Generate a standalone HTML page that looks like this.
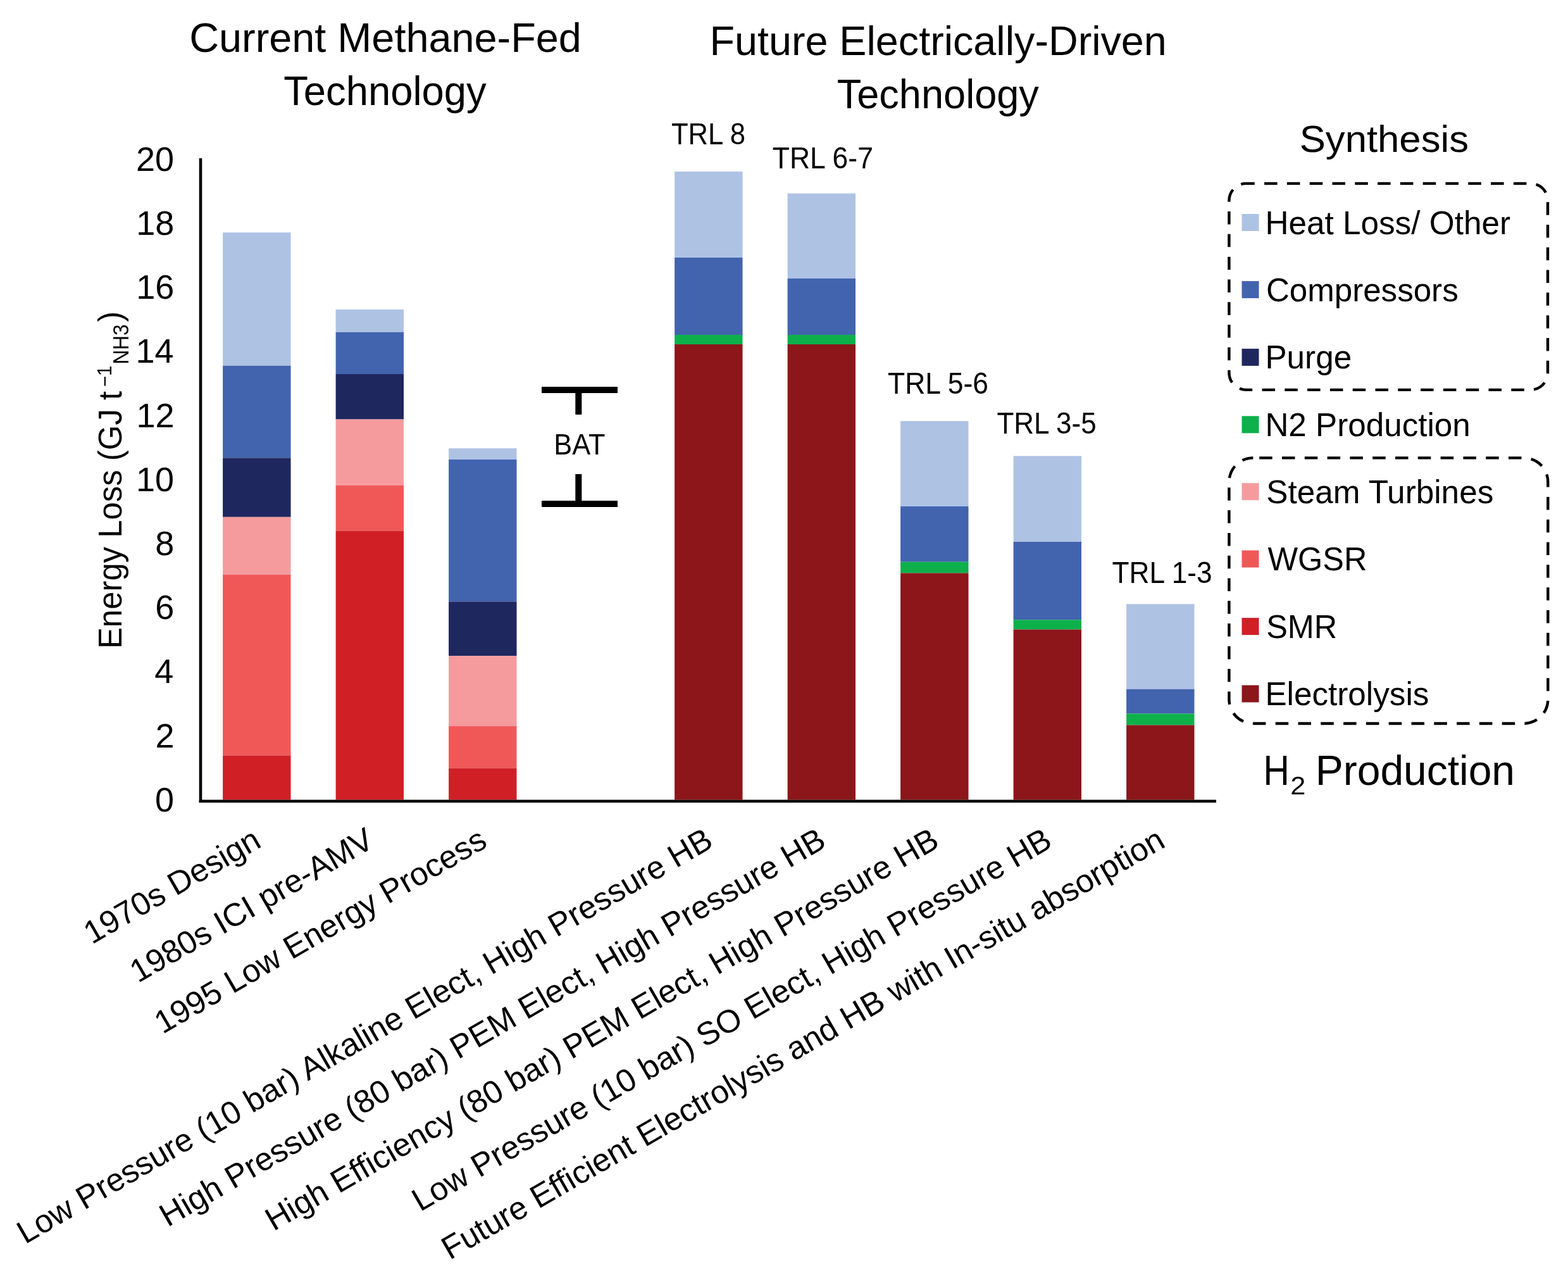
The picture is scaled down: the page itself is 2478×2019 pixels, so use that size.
<!DOCTYPE html>
<html><head><meta charset="utf-8"><title>Energy Loss chart</title>
<style>html,body{margin:0;padding:0;background:#fff;}svg{display:block;}</style></head>
<body><svg width="2478" height="2019" viewBox="0 0 2478 2019" font-family='"Liberation Sans", Arial, sans-serif'><rect width="100%" height="100%" fill="#fff"/><rect x="352.1" y="367.3" width="107.4" height="210.4" fill="#AEC2E4"/>
<rect x="352.1" y="577.7" width="107.4" height="145.7" fill="#4263AE"/>
<rect x="352.1" y="723.4" width="107.4" height="93.4" fill="#1F275F"/>
<rect x="352.1" y="816.8" width="107.4" height="91.2" fill="#F59B9E"/>
<rect x="352.1" y="908.0" width="107.4" height="285.5" fill="#F05858"/>
<rect x="352.1" y="1193.5" width="107.4" height="70.0" fill="#D11F26"/>
<rect x="530.6" y="488.9" width="107.4" height="35.8" fill="#AEC2E4"/>
<rect x="530.6" y="524.7" width="107.4" height="66.3" fill="#4263AE"/>
<rect x="530.6" y="591.0" width="107.4" height="71.5" fill="#1F275F"/>
<rect x="530.6" y="662.5" width="107.4" height="104.1" fill="#F59B9E"/>
<rect x="530.6" y="766.6" width="107.4" height="72.0" fill="#F05858"/>
<rect x="530.6" y="838.6" width="107.4" height="424.9" fill="#D11F26"/>
<rect x="709.1" y="708.3" width="107.4" height="17.7" fill="#AEC2E4"/>
<rect x="709.1" y="726.0" width="107.4" height="224.4" fill="#4263AE"/>
<rect x="709.1" y="950.4" width="107.4" height="85.8" fill="#1F275F"/>
<rect x="709.1" y="1036.2" width="107.4" height="110.9" fill="#F59B9E"/>
<rect x="709.1" y="1147.1" width="107.4" height="66.4" fill="#F05858"/>
<rect x="709.1" y="1213.5" width="107.4" height="50.0" fill="#D11F26"/>
<rect x="1066.1" y="271.0" width="107.4" height="136.0" fill="#AEC2E4"/>
<rect x="1066.1" y="407.0" width="107.4" height="122.0" fill="#4263AE"/>
<rect x="1066.1" y="529.0" width="107.4" height="15.0" fill="#0DB04B"/>
<rect x="1066.1" y="544.0" width="107.4" height="719.5" fill="#8C161A"/>
<rect x="1244.6" y="305.6" width="107.4" height="134.4" fill="#AEC2E4"/>
<rect x="1244.6" y="440.0" width="107.4" height="89.0" fill="#4263AE"/>
<rect x="1244.6" y="529.0" width="107.4" height="15.0" fill="#0DB04B"/>
<rect x="1244.6" y="544.0" width="107.4" height="719.5" fill="#8C161A"/>
<rect x="1423.1" y="665.2" width="107.4" height="134.8" fill="#AEC2E4"/>
<rect x="1423.1" y="800.0" width="107.4" height="87.7" fill="#4263AE"/>
<rect x="1423.1" y="887.7" width="107.4" height="17.7" fill="#0DB04B"/>
<rect x="1423.1" y="905.4" width="107.4" height="358.1" fill="#8C161A"/>
<rect x="1601.6" y="720.4" width="107.4" height="135.6" fill="#AEC2E4"/>
<rect x="1601.6" y="856.0" width="107.4" height="123.2" fill="#4263AE"/>
<rect x="1601.6" y="979.2" width="107.4" height="15.3" fill="#0DB04B"/>
<rect x="1601.6" y="994.5" width="107.4" height="269.0" fill="#8C161A"/>
<rect x="1780.1" y="954.3" width="107.4" height="134.4" fill="#AEC2E4"/>
<rect x="1780.1" y="1088.7" width="107.4" height="38.7" fill="#4263AE"/>
<rect x="1780.1" y="1127.4" width="107.4" height="18.1" fill="#0DB04B"/>
<rect x="1780.1" y="1145.5" width="107.4" height="118.0" fill="#8C161A"/>
<line x1="317" y1="250" x2="317" y2="1268" stroke="#000" stroke-width="4.6"/>
<line x1="314.7" y1="1265.7" x2="1922" y2="1265.7" stroke="#000" stroke-width="4.6"/>
<text x="275.0" y="1281.8" font-size="54" text-anchor="end">0</text>
<text x="275.5" y="1180.6" font-size="54" text-anchor="end">2</text>
<text x="274.4" y="1079.4" font-size="54" text-anchor="end">4</text>
<text x="275.2" y="978.2" font-size="54" text-anchor="end">6</text>
<text x="275.2" y="877.0" font-size="54" text-anchor="end">8</text>
<text x="275.0" y="775.8" font-size="54" text-anchor="end">10</text>
<text x="275.6" y="674.6" font-size="54" text-anchor="end">12</text>
<text x="274.5" y="573.4" font-size="54" text-anchor="end">14</text>
<text x="275.3" y="472.2" font-size="54" text-anchor="end">16</text>
<text x="275.3" y="371.0" font-size="54" text-anchor="end">18</text>
<text x="275.0" y="269.8" font-size="54" text-anchor="end">20</text>
<text x="299.2" y="81.8" font-size="65.0" textLength="619.7" lengthAdjust="spacingAndGlyphs" fill="#000">Current Methane-Fed</text>
<text x="448.2" y="165.6" font-size="65.0" textLength="320.4" lengthAdjust="spacingAndGlyphs" fill="#000">Technology</text>
<text x="1121.5" y="86.8" font-size="65.0" textLength="722.3" lengthAdjust="spacingAndGlyphs" fill="#000">Future Electrically-Driven</text>
<text x="1322.7" y="170.5" font-size="65.0" textLength="319.2" lengthAdjust="spacingAndGlyphs" fill="#000">Technology</text>
<text x="1060.9" y="227.7" font-size="47.5" textLength="117.2" lengthAdjust="spacingAndGlyphs" fill="#000">TRL 8</text>
<text x="1220.8" y="266.4" font-size="47.5" textLength="159.1" lengthAdjust="spacingAndGlyphs" fill="#000">TRL 6-7</text>
<text x="1403.1" y="621.6" font-size="47.5" textLength="159.0" lengthAdjust="spacingAndGlyphs" fill="#000">TRL 5-6</text>
<text x="1575.4" y="685.4" font-size="47.5" textLength="157.3" lengthAdjust="spacingAndGlyphs" fill="#000">TRL 3-5</text>
<text x="1757.5" y="921.2" font-size="47.5" textLength="158.1" lengthAdjust="spacingAndGlyphs" fill="#000">TRL 1-3</text>
<text x="875.3" y="718.3" font-size="47.0" textLength="81.1" lengthAdjust="spacingAndGlyphs" fill="#000">BAT</text>
<g stroke="#000" stroke-width="10" fill="none"><line x1="856" y1="616" x2="976" y2="616"/><line x1="914.3" y1="616" x2="914.3" y2="655"/><line x1="856" y1="796" x2="976" y2="796"/><line x1="914.3" y1="749" x2="914.3" y2="796"/></g>
<text x="1999.4" y="369.5" font-size="52.0" textLength="387.6" lengthAdjust="spacingAndGlyphs" fill="#000">Heat Loss/ Other</text>
<rect x="1962.5" y="338.0" width="27" height="27" fill="#AEC2E4"/>
<text x="2000.9" y="475.6" font-size="52.0" textLength="303.8" lengthAdjust="spacingAndGlyphs" fill="#000">Compressors</text>
<rect x="1962.5" y="444.1" width="27" height="27" fill="#4263AE"/>
<text x="1999.4" y="582.4" font-size="52.0" textLength="136.8" lengthAdjust="spacingAndGlyphs" fill="#000">Purge</text>
<rect x="1962.5" y="550.9" width="27" height="27" fill="#1F275F"/>
<text x="1999.4" y="688.8" font-size="52.0" textLength="324.4" lengthAdjust="spacingAndGlyphs" fill="#000">N2 Production</text>
<rect x="1962.5" y="657.3" width="27" height="27" fill="#0DB04B"/>
<text x="2001.2" y="794.7" font-size="52.0" textLength="359.1" lengthAdjust="spacingAndGlyphs" fill="#000">Steam Turbines</text>
<rect x="1962.5" y="763.2" width="27" height="27" fill="#F59B9E"/>
<text x="2003.5" y="901.0" font-size="52.0" textLength="156.9" lengthAdjust="spacingAndGlyphs" fill="#000">WGSR</text>
<rect x="1962.5" y="869.5" width="27" height="27" fill="#F05858"/>
<text x="2001.2" y="1007.6" font-size="52.0" textLength="112.1" lengthAdjust="spacingAndGlyphs" fill="#000">SMR</text>
<rect x="1962.5" y="976.1" width="27" height="27" fill="#D11F26"/>
<text x="1999.4" y="1114.0" font-size="52.0" textLength="259.0" lengthAdjust="spacingAndGlyphs" fill="#000">Electrolysis</text>
<rect x="1962.5" y="1082.5" width="27" height="27" fill="#8C161A"/>
<text x="2053.7" y="239.6" font-size="59.0" textLength="267.3" lengthAdjust="spacingAndGlyphs" fill="#000">Synthesis</text>
<text x="1996.6" y="1240.0" font-size="66.0" textLength="41.3" lengthAdjust="spacingAndGlyphs" fill="#000">H</text>
<text x="2039.3" y="1255.4" font-size="40.0" textLength="24.1" lengthAdjust="spacingAndGlyphs" fill="#000">2</text>
<text x="2078.8" y="1240.0" font-size="66.0" textLength="315.2" lengthAdjust="spacingAndGlyphs" fill="#000">Production</text>
<rect x="1942.4" y="289.9" width="503.6" height="326.0" rx="27" ry="27" fill="none" stroke="#000" stroke-width="4.4" stroke-dasharray="20.5 15.3" stroke-dashoffset="7.1"/>
<rect x="1942.4" y="723.4" width="503.9" height="419.6" rx="38" ry="38" fill="none" stroke="#000" stroke-width="4.4" stroke-dasharray="20.5 15.3" stroke-dashoffset="26"/>
<g transform="translate(192.3,1021) rotate(-90)"><text x="-4.1" y="0.0" font-size="51" textLength="407.2" lengthAdjust="spacingAndGlyphs">Energy Loss (GJ t</text><text x="409.7" y="-16.0" font-size="31" textLength="33.7" lengthAdjust="spacingAndGlyphs">−1</text><text x="445.4" y="10.9" font-size="35" textLength="63.3" lengthAdjust="spacingAndGlyphs">NH3</text><text x="512.6" y="0.0" font-size="51" textLength="16.5" lengthAdjust="spacingAndGlyphs">)</text></g>
<text transform="translate(415.3,1336.6) rotate(-30)" x="0" y="0" text-anchor="end" font-size="51.0" textLength="311.9" lengthAdjust="spacingAndGlyphs">1970s Design</text>
<text transform="translate(593.9,1336.6) rotate(-30)" x="0" y="0" text-anchor="end" font-size="51.0" textLength="433.7" lengthAdjust="spacingAndGlyphs">1980s ICI pre-AMV</text>
<text transform="translate(772.5,1336.6) rotate(-30)" x="0" y="0" text-anchor="end" font-size="51.0" textLength="595.4" lengthAdjust="spacingAndGlyphs">1995 Low Energy Process</text>
<text transform="translate(1129.7,1336.6) rotate(-30)" x="0" y="0" text-anchor="end" font-size="51.0" textLength="1258.6" lengthAdjust="spacingAndGlyphs">Low Pressure (10 bar) Alkaline Elect, High Pressure HB</text>
<text transform="translate(1308.3,1336.6) rotate(-30)" x="0" y="0" text-anchor="end" font-size="51.0" textLength="1204.6" lengthAdjust="spacingAndGlyphs">High Pressure (80 bar) PEM Elect, High Pressure HB</text>
<text transform="translate(1486.9,1336.6) rotate(-30)" x="0" y="0" text-anchor="end" font-size="51.0" textLength="1217.9" lengthAdjust="spacingAndGlyphs">High Efficiency (80 bar) PEM Elect, High Pressure HB</text>
<text transform="translate(1665.5,1336.6) rotate(-30)" x="0" y="0" text-anchor="end" font-size="51.0" textLength="1156.5" lengthAdjust="spacingAndGlyphs">Low Pressure (10 bar) SO Elect, High Pressure HB</text>
<text transform="translate(1844.1,1336.6) rotate(-30)" x="0" y="0" text-anchor="end" font-size="51.0" textLength="1308.7" lengthAdjust="spacingAndGlyphs">Future Efficient Electrolysis and HB with In-situ absorption</text></svg></body></html>
